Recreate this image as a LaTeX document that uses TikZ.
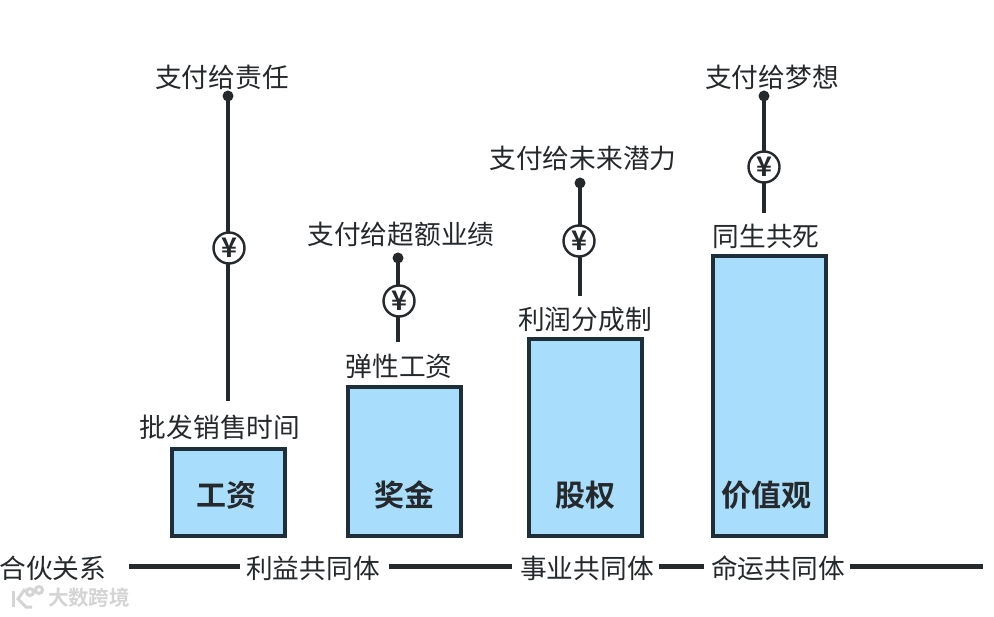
\documentclass[tikz,border=0pt]{standalone}
\usepackage{fontspec}
\newfontfamily\cjk{Noto Sans CJK SC}
\newfontfamily\cjkb{Noto Sans CJK SC Bold}
\definecolor{barfill}{HTML}{A8DDFB}
\definecolor{barline}{HTML}{1F2F3A}
\definecolor{ink}{HTML}{26292C}
\definecolor{wmark}{HTML}{D4D4D4}
\tikzset{
 x=1pt,y=-1pt,
 bar/.style={draw=barline,line width=4pt,fill=barfill,inner sep=0pt,minimum width=113pt},
 barlab/.style={font=\cjkb\fontsize{30}{32}\selectfont,text=ink,inner sep=0pt},
 lab/.style={font=\cjk\fontsize{26.7}{28}\selectfont,text=ink,inner sep=0pt},
 conn/.style={draw=ink,line width=4pt},
 rule/.style={draw=ink,line width=5pt},
 dotn/.style={circle,fill=ink,minimum size=11pt,inner sep=0pt},
 yen/.style={circle,draw=ink,line width=2.4pt,fill=white,minimum size=31pt,inner sep=0pt,font=\cjkb\fontsize{27}{27}\selectfont,text=ink},
 wm/.style={font=\cjkb\fontsize{20.5}{22}\selectfont,text=wmark,inner sep=0pt},
 wmline/.style={draw=wmark,line width=3pt}
}
\begin{document}
\begin{tikzpicture}
\useasboundingbox (0,0) rectangle (994,617);
\fill[white] (0,0) rectangle (994,617);
% bars
\node[bar,minimum height=87pt]  (b1) at (228.5,492.5) {};
\node[bar,minimum height=149pt] (b2) at (404,461.5) {};
\node[bar,minimum height=197pt] (b3) at (585.5,437.5) {};
\node[bar,minimum height=280pt] (b4) at (769,396) {};
\node[barlab] (n1) at (226,495) {工资};
\node[barlab] (n2) at (404,495) {奖金};
\node[barlab] (n3) at (585,495) {股权};
\node[barlab] (n4) at (766,495) {价值观};
% top and bar labels
\node[lab] (t1) at (222,77) {支付给责任};
\node[lab] (t2) at (401,234) {支付给超额业绩};
\node[lab] (t3) at (583,158) {支付给未来潜力};
\node[lab] (t4) at (772,77) {支付给梦想};
\node[lab] (l1) at (220,427) {批发销售时间};
\node[lab] (l2) at (399,366) {弹性工资};
\node[lab] (l3) at (585,319) {利润分成制};
\node[lab] (l4) at (766,236) {同生共死};
% connectors
\node[dotn] (d1) at (228,96) {};
\node[dotn] (d2) at (398,258) {};
\node[dotn] (d3) at (580,183) {};
\node[dotn] (d4) at (764,96) {};
\coordinate (e1) at (228,401);
\coordinate (e2) at (398,342);
\coordinate (e3) at (580,296);
\coordinate (e4) at (764,213);
\draw[conn] (d1.center) -- (e1);
\draw[conn] (d2.center) -- (e2);
\draw[conn] (d3.center) -- (e3);
\draw[conn] (d4.center) -- (e4);
\node[yen] (y1) at (229,248) {¥};
\node[yen] (y2) at (399,301) {¥};
\node[yen] (y3) at (579,241) {¥};
\node[yen] (y4) at (764,167) {¥};
% bottom axis
\node[lab] (a0) at (53,568) {合伙关系};
\node[lab] (a1) at (313,568) {利益共同体};
\node[lab] (a2) at (587,568) {事业共同体};
\node[lab] (a3) at (778,568) {命运共同体};
\coordinate (r0) at (129,566);
\coordinate (r0e) at (240,566);
\coordinate (r1s) at (389,566);
\coordinate (r1e) at (512,566);
\coordinate (r2s) at (659,566);
\coordinate (r2e) at (704,566);
\coordinate (r3s) at (850,566);
\coordinate (r3e) at (983,566);
\draw[rule] (r0) -- (r0e);
\draw[rule] (r1s) -- (r1e);
\draw[rule] (r2s) -- (r2e);
\draw[rule] (r3s) -- (r3e);
% watermark
\node[wm] (w) at (89,598) {大数跨境};
\draw[wmline] (13,591) -- (13,607);
\draw[wmline] (25,589) -- (18,599) -- (26,607) -- (32,607);
\draw[wmline] (30,592) circle (3.5pt);
\draw[wmline] (39,590) circle (3.5pt);
\end{tikzpicture}
\end{document}
